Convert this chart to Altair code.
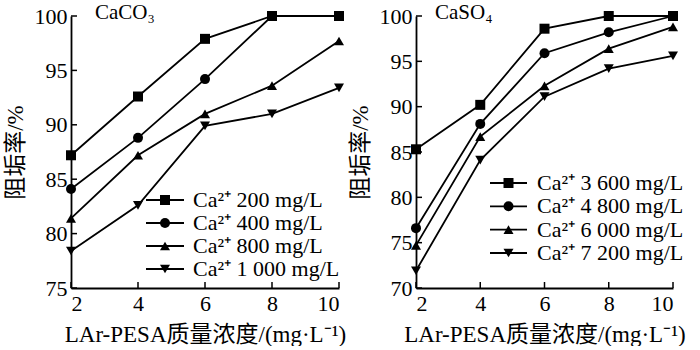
import altair as alt
import pandas as pd

# ---------------- data ----------------
x_vals = [2, 4, 6, 8, 10]

caco3_series = ["Ca²⁺ 200 mg/L", "Ca²⁺ 400 mg/L", "Ca²⁺ 800 mg/L", "Ca²⁺ 1 000 mg/L"]
caco3_200 = [87.2, 92.6, 97.9, 100.0, 100.0]
caco3_400 = [84.1, 88.8, 94.2, 100.0, 100.0]
caco3_800 = [81.4, 87.2, 91.0, 93.6, 97.7]
caco3_1000 = [78.4, 82.6, 89.9, 91.0, 93.4]

caso4_series = ["Ca²⁺ 3 600 mg/L", "Ca²⁺ 4 800 mg/L", "Ca²⁺ 6 000 mg/L", "Ca²⁺ 7 200 mg/L"]
caso4_3600 = [85.3, 90.2, 98.6, 100.0, 100.0]
caso4_4800 = [76.6, 88.1, 95.9, 98.2, 100.0]
caso4_6000 = [74.7, 86.7, 92.3, 96.4, 98.8]
caso4_7200 = [71.9, 84.1, 91.1, 94.2, 95.6]

x_ticks = [2, 4, 6, 8, 10]
caco3_y_ticks = [75, 80, 85, 90, 95, 100]
caso4_y_ticks = [70, 75, 80, 85, 90, 95, 100]

x_title = "LAr-PESA质量浓度/(mg·L⁻¹)"
y_title = "阻垢率/%"

FONT = "Liberation Serif, Noto Sans CJK SC"
shapes = ["square", "circle", "triangle-up", "triangle-down"]


def panel(names, values, label, y_dom, y_ticks, w, h, leg_x, leg_rows, tx):
    rows = []
    for name, vals in zip(names, values):
        for xv, yv in zip(x_vals, vals):
            rows.append({"x": xv, "y": yv, "series": name})
    df = pd.DataFrame(rows)

    xs = alt.Scale(domain=[2, 10], nice=False, zero=False)
    ys = alt.Scale(domain=y_dom, nice=False, zero=False)
    X = alt.X("x:Q", scale=xs, title=x_title,
              axis=alt.Axis(values=x_ticks, format="d"))
    Y = alt.Y("y:Q", scale=ys, title=y_title,
              axis=alt.Axis(values=y_ticks, format="d"))
    Yn = alt.Y("y:Q", scale=ys, axis=None)
    S = alt.Shape("series:N", scale=alt.Scale(domain=names, range=shapes), legend=None)

    base = alt.Chart(df)
    lines = base.mark_line(color="black", strokeWidth=1.8).encode(
        x=X, y=Y, detail="series:N")
    pts = base.mark_point(filled=True, color="black", size=100, opacity=1).encode(
        x=X, y=Yn, shape=S)

    xt = pd.DataFrame({"x": x_ticks})
    yt = pd.DataFrame({"y": y_ticks})
    xtick = alt.Chart(xt).mark_rule(color="black", strokeWidth=1.5).encode(
        x=X, y=alt.value(h), y2=alt.value(h - 6))
    ytick = alt.Chart(yt).mark_rule(color="black", strokeWidth=1.5).encode(
        y=Yn, x=alt.value(0), x2=alt.value(6))
    ttl = alt.Chart(pd.DataFrame({"t": [label]})).mark_text(
        font=FONT, fontSize=21, align="left", baseline="alphabetic", color="black"
    ).encode(text="t:N", x=alt.value(tx), y=alt.value(3))

    # legend (line + marker + label), one row per series
    ldf = pd.DataFrame({"series": names, "idx": list(range(len(names)))})
    LY = alt.Y("idx:Q", scale=alt.Scale(domain=[0, len(names) - 1], range=leg_rows),
               axis=None)
    lbase = alt.Chart(ldf)
    l_line = lbase.mark_rule(color="black", strokeWidth=1.8).encode(
        y=LY, x=alt.value(leg_x[0]), x2=alt.value(leg_x[1]))
    l_pt = lbase.mark_point(filled=True, color="black", size=100, opacity=1).encode(
        y=LY, x=alt.value((leg_x[0] + leg_x[1]) / 2), shape=S)
    l_txt = lbase.mark_text(font=FONT, fontSize=22, align="left", baseline="middle",
                            color="black").encode(
        y=LY, x=alt.value(leg_x[2]), text="series:N")

    return alt.layer(lines, pts, xtick, ytick, ttl, l_line, l_pt, l_txt).resolve_scale(
        y="independent").properties(width=w, height=h)


left = panel(caco3_series, [caco3_200, caco3_400, caco3_800, caco3_1000], "CaCO₃",
             [75, 100], caco3_y_ticks, 268, 272, [75, 113, 122], [184, 253], 24)
right = panel(caso4_series, [caso4_3600, caso4_4800, caso4_6000, caso4_7200], "CaSO₄",
              [70, 100], caso4_y_ticks, 257, 272, [74, 111, 121], [167, 237], 19)

chart = alt.hconcat(left, right, spacing=3).properties(
    padding={"left": 4, "top": 2, "right": 0, "bottom": 0}
).configure_view(stroke=None).configure_axis(
    domainColor="black", domainWidth=1.8, tickSize=0, grid=False,
    labelFont=FONT, labelFontSize=22, labelColor="black", labelPadding=4,
    titleFont=FONT, titleFontSize=23, titleFontWeight="normal", titleColor="black",
).configure_axisX(titlePadding=9, labelPadding=5).configure_axisY(titlePadding=7)

chart.save("out.html", embed_options={"renderer": "svg", "actions": False})
